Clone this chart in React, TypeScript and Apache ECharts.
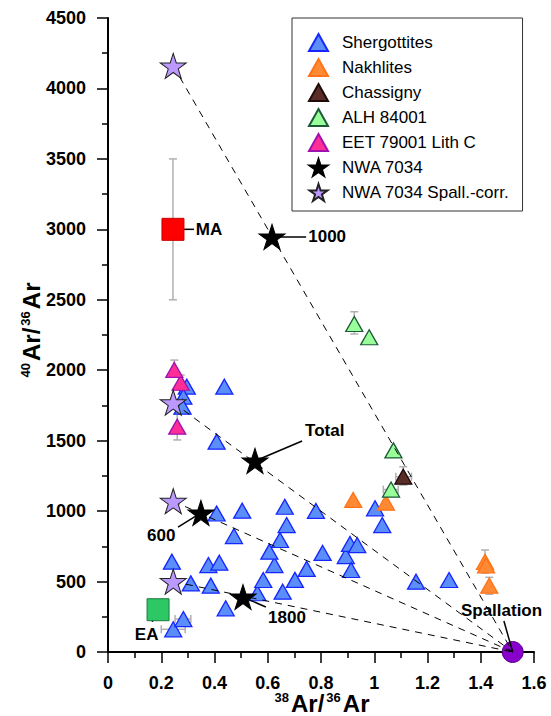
import React, { useEffect, useRef } from "react";
import * as echarts from "echarts";

const FONT = '"Liberation Sans", Arial, Helvetica, sans-serif';
const STAR =
  "path://M50,0L61.2,34.5L97.6,34.5L68.2,55.9L79.4,90.5L50,69.1L20.6,90.5L31.8,55.9L2.4,34.5L38.8,34.5Z";

// ---------- data (38Ar/36Ar, 40Ar/36Ar) ----------
const shergottites: number[][] = [
  [0.245, 161], [0.283, 234], [0.442, 310], [0.311, 487], [0.386, 471],
  [0.24, 641], [0.377, 617], [0.418, 634], [0.561, 417], [0.583, 511],
  [0.656, 428], [0.702, 512], [0.746, 590], [0.625, 617], [0.606, 712],
  [0.646, 795], [0.473, 823], [0.408, 983], [0.504, 1003], [0.664, 1031],
  [0.671, 901], [0.781, 1001], [0.806, 703], [0.893, 681], [0.909, 767],
  [0.936, 759], [0.913, 582], [1.003, 1020], [1.03, 901], [1.157, 499],
  [1.281, 511], [0.408, 1493], [0.437, 1883], [0.296, 1883], [0.283, 1812],
  [0.28, 1741],
];
const nakhlites: number[][] = [
  [0.921, 1079], [1.044, 1060], [1.416, 640], [1.42, 615], [1.432, 471],
];
const chassigny: number[][] = [[1.109, 1244]];
const alh84001: number[][] = [[0.925, 2328], [0.981, 2234], [1.072, 1431], [1.063, 1153]];
const eet79001: number[][] = [[0.26, 1599], [0.273, 1911], [0.249, 2002]];
const nwa7034: number[][] = [[0.616, 2946], [0.552, 1356], [0.349, 987], [0.507, 390]];
const nwa7034Corr: number[][] = [[0.245, 4160], [0.245, 1770], [0.245, 1070], [0.245, 500]];
const spallation: number[][] = [[1.52, 0]];
const maPoint: number[][] = [[0.244, 3000]];
const eaPoint: number[][] = [[0.188, 300]];

// error bars: vertical [x, yLow, yHigh], horizontal [y, xLow, xHigh]
const vErrors: number[][] = [
  [0.244, 2500, 3500], [0.249, 1950, 2072], [0.273, 1860, 1966], [0.26, 1505, 1690],
  [0.925, 2257, 2415], [1.109, 1185, 1315], [1.416, 560, 724], [1.432, 410, 530],
];
const hErrors: number[][] = [
  [1244, 1.081, 1.14], [1153, 1.034, 1.09], [234, 0.252, 0.311], [161, 0.2, 0.29],
];

// annotations: text, leader from -> to, label anchor
const annotations = [
  { text: "1000", from: [0.616, 2946], to: [0.744, 2946], at: [0.752, 2946], align: "left" },
  { text: "Total", from: [0.552, 1356], to: [0.729, 1498], at: [0.74, 1569], align: "left" },
  { text: "600", from: [0.349, 987], to: [0.263, 887], at: [0.2, 830], align: "center" },
  { text: "1800", from: [0.507, 390], to: [0.593, 319], at: [0.601, 248], align: "left" },
  { text: "MA", from: [0.244, 3000], to: [0.323, 3000], at: [0.33, 3000], align: "left" },
  { text: "EA", from: [0.188, 300], to: [0.166, 215], at: [0.145, 121], align: "center" },
  { text: "Spallation", from: [1.52, 0], to: [1.487, 220], at: [1.478, 298], align: "center" },
];

const xTickInterval = 0.2;
const yTickInterval = 500;

// axis title pieces: [text, isSuperscript]
const xTitleParts: [string, boolean][] = [["38", true], ["Ar/", false], ["36", true], ["Ar", false]];
const yTitleParts: [string, boolean][] = [["40", true], ["Ar/", false], ["36", true], ["Ar", false]];

const MAIN_SIZE = 24;
const SUP_SIZE = 13;
const PIECE_GAP = 2;

function titleGroup(parts: [string, boolean][], x: number, y: number, rotation: number) {
  const canvas = document.createElement("canvas");
  const ctx = canvas.getContext("2d")!;
  const widths = parts.map(([t, sup]) => {
    ctx.font = `bold ${sup ? SUP_SIZE : MAIN_SIZE}px ${FONT}`;
    return ctx.measureText(t).width;
  });
  const total = widths.reduce((a, b) => a + b, 0) + (parts.length - 1) * PIECE_GAP;
  let cx = -total / 2;
  const children = parts.map(([t, sup], i) => {
    const el = {
      type: "text",
      x: cx,
      y: sup ? -5 : 1,
      style: {
        text: t,
        fill: "#000",
        font: `bold ${sup ? SUP_SIZE : MAIN_SIZE}px ${FONT}`,
        lineHeight: sup ? 12 : 20,
        align: "left",
        verticalAlign: "middle",
      },
    };
    cx += widths[i] + PIECE_GAP;
    return el;
  });
  return { type: "group", x, y, rotation, children };
}

export default function App() {
  const ref = useRef<HTMLDivElement>(null);
  useEffect(() => {
    if (!ref.current) return;
    const chart = echarts.init(ref.current, undefined, { renderer: "svg" });

    const triSeries = (name: string, data: number[][], fill: string, stroke: string) => ({
      name,
      type: "scatter",
      data,
      symbol: "triangle",
      symbolSize: [17, 15],
      z: 2,
      itemStyle: { color: fill, borderColor: stroke, borderWidth: 1.3, opacity: 1 },
      emphasis: { disabled: true },
    });

    const lineRender = (dash: number[] | null, width: number) => (params: any, api: any) => {
      const p1 = api.coord([api.value(0), api.value(1)]);
      const p2 = api.coord([api.value(2), api.value(3)]);
      return {
        type: "line",
        shape: { x1: p1[0], y1: p1[1], x2: p2[0], y2: p2[1] },
        style: { stroke: "#000", lineWidth: width, lineDash: dash || undefined, fill: null },
      };
    };

    const option: any = {
      animation: false,
      grid: { left: 108, top: 18, width: 426, height: 634, containLabel: false },
      xAxis: {
        type: "value",
        min: 0,
        max: 1.6,
        interval: xTickInterval,
        axisLine: { lineStyle: { color: "#000", width: 2 } },
        axisTick: { length: 11, lineStyle: { color: "#000", width: 1.5 } },
        minorTick: { show: true, splitNumber: 2, length: 6, lineStyle: { color: "#000", width: 1.5 } },
        splitLine: { show: false },
        axisLabel: {
          margin: 23,
          fontFamily: FONT,
          fontSize: 18,
          lineHeight: 15,
          fontWeight: "bold",
          color: "#000",
          formatter: (v: number) => String(Math.round(v * 10) / 10),
        },
      },
      yAxis: {
        type: "value",
        min: 0,
        max: 4500,
        interval: yTickInterval,
        axisLine: { show: true, lineStyle: { color: "#000", width: 2 } },
        axisTick: { show: true, length: 11, lineStyle: { color: "#000", width: 1.5 } },
        minorTick: { show: true, splitNumber: 2, length: 6, lineStyle: { color: "#000", width: 1.5 } },
        splitLine: { show: false },
        axisLabel: {
          margin: 22,
          fontFamily: FONT,
          fontSize: 18,
          fontWeight: "bold",
          color: "#000",
          formatter: (v: number) => String(Math.round(v)),
        },
      },
      legend: {
        orient: "vertical",
        left: 292,
        top: 18,
        padding: [15, 13, 9, 16],
        itemWidth: 19,
        itemHeight: 17,
        itemGap: 6,
        borderColor: "#333",
        borderWidth: 1,
        selectedMode: false,
        textStyle: { fontFamily: FONT, fontSize: 17, color: "#000", lineHeight: 17, padding: [0, 0, 0, 9] },
        data: [
          { name: "Shergottites", icon: "triangle" },
          { name: "Nakhlites", icon: "triangle" },
          { name: "Chassigny", icon: "triangle" },
          { name: "ALH 84001", icon: "triangle" },
          { name: "EET 79001 Lith C", icon: "triangle" },
          { name: "NWA 7034", icon: STAR },
          { name: "NWA 7034 Spall.-corr.", icon: STAR },
        ],
      },
      graphic: [
        titleGroup(xTitleParts, 322, 702, 0),
        titleGroup(yTitleParts, 30, 330, Math.PI / 2),
      ],
      series: [
        {
          type: "custom",
          name: "vErr",
          data: vErrors,
          encode: { x: 0, y: [1, 2] },
          z: 1,
          silent: true,
          renderItem: (params: any, api: any) => {
            const x = api.value(0);
            const a = api.coord([x, api.value(1)]);
            const b = api.coord([x, api.value(2)]);
            const st = { stroke: "#b0b0b0", lineWidth: 1.5 };
            return {
              type: "group",
              children: [
                { type: "line", shape: { x1: a[0], y1: a[1], x2: b[0], y2: b[1] }, style: st },
                { type: "line", shape: { x1: a[0] - 4, y1: a[1], x2: a[0] + 4, y2: a[1] }, style: st },
                { type: "line", shape: { x1: b[0] - 4, y1: b[1], x2: b[0] + 4, y2: b[1] }, style: st },
              ],
            };
          },
        },
        {
          type: "custom",
          name: "hErr",
          data: hErrors,
          encode: { y: 0, x: [1, 2] },
          z: 1,
          silent: true,
          renderItem: (params: any, api: any) => {
            const y = api.value(0);
            const a = api.coord([api.value(1), y]);
            const b = api.coord([api.value(2), y]);
            const st = { stroke: "#b0b0b0", lineWidth: 1.5 };
            return {
              type: "group",
              children: [
                { type: "line", shape: { x1: a[0], y1: a[1], x2: b[0], y2: b[1] }, style: st },
                { type: "line", shape: { x1: a[0], y1: a[1] - 4, x2: a[0], y2: a[1] + 4 }, style: st },
                { type: "line", shape: { x1: b[0], y1: b[1] - 4, x2: b[0], y2: b[1] + 4 }, style: st },
              ],
            };
          },
        },
        triSeries("Shergottites", shergottites, "#5b8ef8", "#1626ff"),
        triSeries("Nakhlites", nakhlites, "#ff8a33", "#ff7418"),
        triSeries("Chassigny", chassigny, "#5a2c27", "#1e0c0a"),
        triSeries("ALH 84001", alh84001, "#99ff99", "#1c5a38"),
        triSeries("EET 79001 Lith C", eet79001, "#ff2e97", "#a010b0"),
        {
          type: "custom",
          name: "mixing",
          data: nwa7034Corr.map((p) => [p[0], p[1], spallation[0][0], spallation[0][1]]),
          encode: { x: [0, 2], y: [1, 3] },
          z: 3,
          silent: true,
          renderItem: lineRender([7, 6], 1),
        },
        {
          type: "custom",
          name: "leaders",
          data: annotations.map((a) => [a.from[0], a.from[1], a.to[0], a.to[1]]),
          encode: { x: [0, 2], y: [1, 3] },
          z: 3,
          silent: true,
          renderItem: lineRender(null, 1.5),
        },
        {
          name: "MA",
          type: "scatter",
          data: maPoint,
          symbol: "rect",
          symbolSize: 22,
          z: 4,
          itemStyle: { color: "#ff0000", borderColor: "#c80000", borderWidth: 1, opacity: 1 },
        },
        {
          name: "EA",
          type: "scatter",
          data: eaPoint,
          symbol: "rect",
          symbolSize: 22,
          z: 4,
          itemStyle: { color: "#2ec765", borderColor: "#1b7a3e", borderWidth: 1, opacity: 1 },
        },
        {
          name: "Spallation",
          type: "scatter",
          data: spallation,
          symbol: "circle",
          symbolSize: 21,
          clip: false,
          z: 2,
          itemStyle: { color: "#8800cc", borderColor: "#5a0088", borderWidth: 1, opacity: 1 },
        },
        {
          name: "NWA 7034",
          type: "scatter",
          data: nwa7034,
          symbol: STAR,
          symbolSize: [26, 25],
          z: 4,
          itemStyle: { color: "#000", borderColor: "#000", borderWidth: 1, opacity: 1 },
        },
        {
          name: "NWA 7034 Spall.-corr.",
          type: "scatter",
          data: nwa7034Corr,
          symbol: STAR,
          symbolSize: [26, 25],
          z: 4,
          itemStyle: { color: "#bb99ff", borderColor: "#222", borderWidth: 1, opacity: 1 },
        },
        {
          type: "custom",
          name: "labels",
          data: annotations.map((a) => a.at),
          encode: { x: 0, y: 1 },
          z: 5,
          silent: true,
          renderItem: (params: any, api: any) => {
            const a = annotations[params.dataIndex];
            const p = api.coord([api.value(0), api.value(1)]);
            return {
              type: "text",
              x: p[0],
              y: p[1],
              style: {
                text: a.text,
                fill: "#000",
                font: `bold 17px ${FONT}`,
                align: a.align,
                verticalAlign: "middle",
              },
            };
          },
        },
      ],
    };
    chart.setOption(option);
    return () => chart.dispose();
  }, []);

  return (
    <div
      ref={ref}
      style={{ position: "absolute", left: 0, top: 0, width: 551, height: 716, background: "#fff" }}
    />
  );
}
